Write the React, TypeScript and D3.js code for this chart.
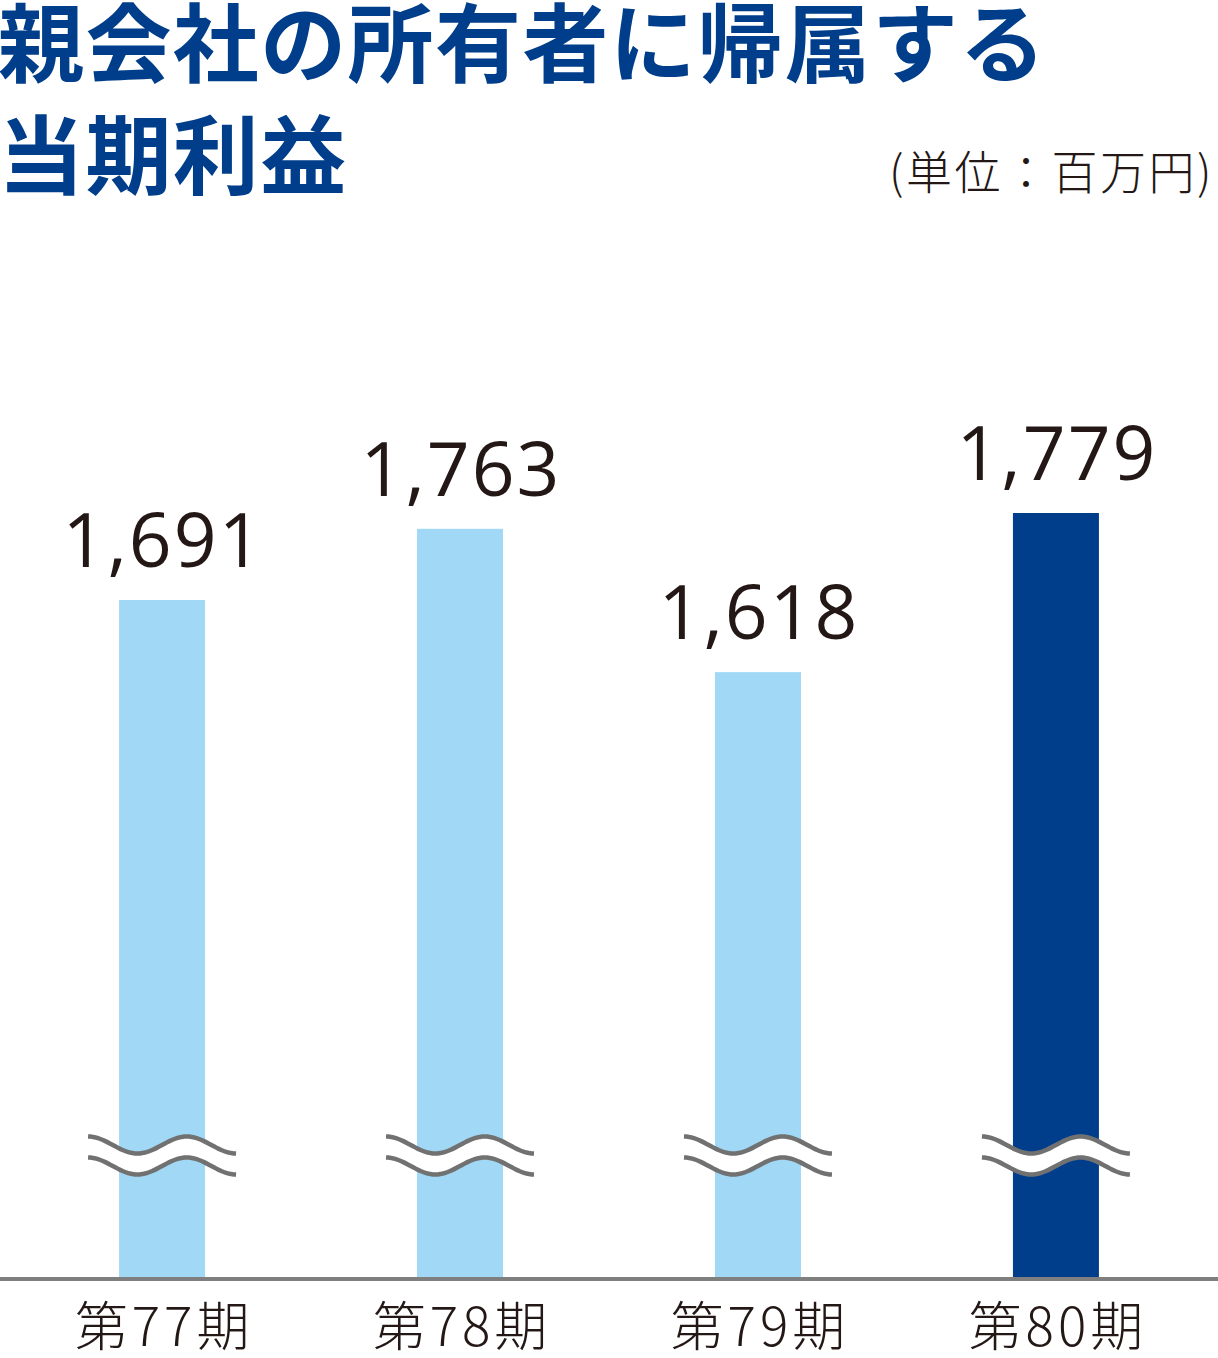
import React from "react";
import * as d3 from "d3";

const categories = ["第77期", "第78期", "第79期", "第80期"];
const values = [1691, 1763, 1618, 1779];
const valueLabels = ["1,691", "1,763", "1,618", "1,779"];
const highlight = [false, false, false, true];
const titleLines = ["親会社の所有者に帰属する", "当期利益"];
const unitLabel = "(単位：百万円)";

const W = 1218;
const H = 1358;
const baseY = 1278;

export default function App() {
  const x = d3.scaleBand<string>().domain(categories).range([13, 1205]).paddingInner(0.7114).paddingOuter(0.356);
  const y = d3.scaleLinear().domain([1005, 1779]).range([baseY, 513]);
  const bw = x.bandwidth();

  const waveW = 148;
  const amp = 8.5;
  const wave = (cx: number, cy: number) => {
    const pts: [number, number][] = d3.range(0, 61).map((i) => {
      const t = i / 60;
      return [cx - waveW / 2 + t * waveW, cy - amp * Math.cos(t * 3 * Math.PI)];
    });
    return pts;
  };
  const line = d3.line();

  return (
    <svg width={W} height={H} style={{ position: "absolute", left: 0, top: 0, background: "#fff" }}>
      <g fontFamily="'Noto Sans CJK JP', sans-serif" fontWeight={700} fill="#003e8b" fontSize={86} letterSpacing={1.4}>
        <text x={-2} y={76}>{titleLines[0]}</text>
        <text x={-2} y={188}>{titleLines[1]}</text>
      </g>
      <text x={1214} y={189} textAnchor="end" fontFamily="'Noto Sans CJK JP', sans-serif" fontSize={46} fill="#231815" fontWeight={300} letterSpacing={2.5}>
        {unitLabel}
      </text>
      {categories.map((c, i) => {
        const bx = x(c)!;
        const cx = bx + bw / 2;
        const top = y(values[i]);
        const up = wave(cx, 1145);
        const lo = wave(cx, 1166);
        const fillPath = line(up)! + "L" + line(lo.slice().reverse())!.slice(1) + "Z";
        return (
          <g key={c}>
            <rect x={bx} y={top} width={bw} height={baseY - top} fill={highlight[i] ? "#003e8b" : "#a1d8f6"} />
            <path d={fillPath} fill="#fff" />
            <path d={line(up)!} fill="none" stroke="#717171" strokeWidth={4.5} />
            <path d={line(lo)!} fill="none" stroke="#717171" strokeWidth={4.5} />
            <text x={cx + 1} y={top - 33} textAnchor="middle" fontFamily="'Open Sans', sans-serif" fontSize={75} fill="#231815" letterSpacing={2}>
              {valueLabels[i]}
            </text>
            <text x={cx + 2} y={1346} textAnchor="middle" fontFamily="'Noto Sans CJK JP', sans-serif" fontSize={53} fill="#231815" fontWeight={300} letterSpacing={4}>
              {c}
            </text>
          </g>
        );
      })}
      <line x1={0} x2={W} y1={baseY + 1} y2={baseY + 1} stroke="#7f7f7f" strokeWidth={4} />
    </svg>
  );
}
